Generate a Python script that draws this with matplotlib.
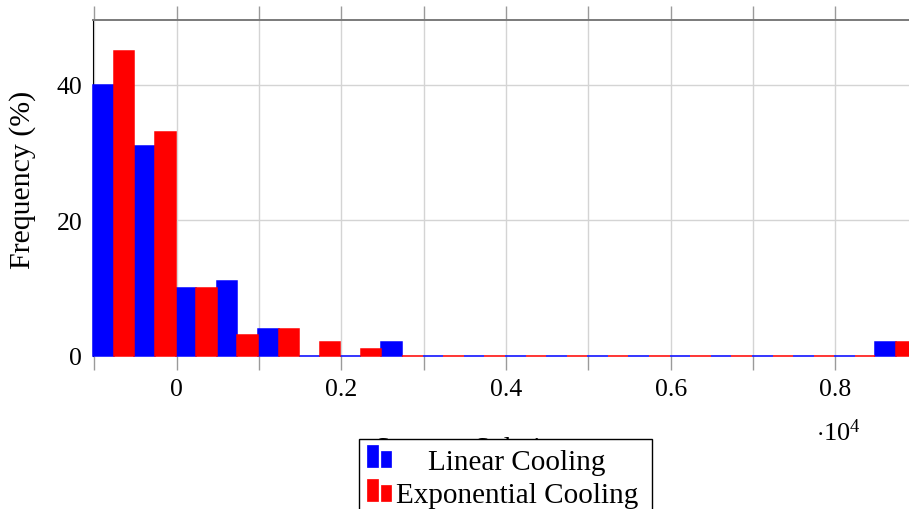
import matplotlib
matplotlib.use("Agg")
import matplotlib.pyplot as plt
from matplotlib.patches import Rectangle

plt.rcParams['font.family'] = ['Liberation Serif', 'DejaVu Serif']
plt.rcParams['mathtext.fontset'] = 'custom'
plt.rcParams['mathtext.rm'] = 'Liberation Serif'
plt.rcParams['mathtext.it'] = 'Liberation Serif:italic'

# ---- data (x in units of 10^4) ----
bin_centers = [-0.0763, -0.0263, 0.0237, 0.0737, 0.1237, 0.1737, 0.2237, 0.2737,
               0.3237, 0.3737, 0.4237, 0.4737, 0.5237, 0.5737, 0.6237, 0.6737,
               0.7237, 0.7737, 0.8237, 0.8737]
linear_cooling = [40, 31, 10, 11, 4, 0, 0, 2, 0, 0, 0, 0, 0, 0, 0, 0, 0, 0, 0, 2]
exponential_cooling = [45, 33, 10, 3, 4, 2, 1, 0, 0, 0, 0, 0, 0, 0, 0, 0, 0, 0, 0, 2]
major_ticks = [0, 0.2, 0.4, 0.6, 0.8]
major_labels = ["0", "0.2", "0.4", "0.6", "0.8"]
minor_ticks = [-0.1, 0.1, 0.3, 0.5, 0.7]
y_ticks = [0, 20, 40]
series_names = ["Linear Cooling", "Exponential Cooling"]
x_label = "Strategy Solution"
y_label = "Frequency (%)"

W, H = 909, 510
fig = plt.figure(figsize=(W / 100, H / 100), dpi=100)

def fx(px):
    return px / W

def fy(py):
    return 1 - py / H

ax_left, ax_top, ax_bottom = 93.3, 21.0, 356.7
ax = fig.add_axes([fx(ax_left), fy(ax_bottom), 1 - fx(ax_left), (ax_bottom - ax_top) / H])

bw = 0.025
blue, red = "#0000ff", "#ff0000"
ax.bar([c - bw / 2 for c in bin_centers], linear_cooling, width=bw, color=blue,
       edgecolor=blue, linewidth=1.1, zorder=3, clip_on=False)
ax.bar([c + bw / 2 for c in bin_centers], exponential_cooling, width=bw, color=red,
       edgecolor=red, linewidth=1.1, zorder=3, clip_on=False)

ax.set_xlim(-0.1013, 0.8895)
ax.set_ylim(0, 49.55)

ax.set_xticks(major_ticks)
ax.set_xticklabels(major_labels)
ax.set_xticks(minor_ticks, minor=True)
ax.set_yticks(y_ticks)
ax.set_yticklabels([str(v) for v in y_ticks])

ax.grid(True, which='both', axis='x', color='#d4d4d4', linewidth=1.0, zorder=0)
ax.grid(True, which='major', axis='y', color='#d4d4d4', linewidth=1.0, zorder=0)
ax.set_axisbelow(True)

ax.tick_params(axis='x', which='both', direction='out', length=10, width=1.0,
               color='#9a9a9a', top=True, labeltop=False, labelsize=18.5, pad=6)
ax.tick_params(axis='y', which='both', length=0, labelsize=18.5, pad=8)

ax.spines['right'].set_visible(False)
ax.spines['bottom'].set_visible(False)
ax.spines['top'].set_color('#7a7a7a')
ax.spines['top'].set_linewidth(1.4)
ax.spines['left'].set_color('black')
ax.spines['left'].set_linewidth(0.8)

ax.set_ylabel(y_label, fontsize=21.5)
ax.yaxis.set_label_coords(-(93.3 - 36) / (W - 93.3), (356.7 - 180) / (356.7 - 21))

# scale factor label
fig.text(fx(838), fy(433), r"$\cdot 10^{4}$", fontsize=19, ha='center', va='center')

# x label (partially hidden by the legend, as in the original)
fig.text(fx(472), fy(437), x_label, fontsize=20, ha='center', va='top', zorder=1)

# legend box
lg_left, lg_right, lg_top = 359, 652, 440
fig.add_artist(Rectangle((fx(lg_left), fy(530)), (lg_right - lg_left) / W, (530 - lg_top) / H,
                         transform=fig.transFigure, facecolor='white', edgecolor='black',
                         linewidth=1.0, zorder=5, clip_on=False))
rows = [(blue, 468, 470, series_names[0]), (red, 502, 503, series_names[1])]
for col, base, tbase, name in rows:
    fig.add_artist(Rectangle((fx(367), fy(base)), 11 / W, 22 / H, transform=fig.transFigure,
                             facecolor=col, edgecolor=col, linewidth=0.5, zorder=6))
    fig.add_artist(Rectangle((fx(381), fy(base)), 10 / W, 16 / H, transform=fig.transFigure,
                             facecolor=col, edgecolor=col, linewidth=0.5, zorder=6))
    fig.text(fx(517), fy(tbase), name, fontsize=21, ha='center', va='baseline', zorder=7)

fig.savefig("out.png", dpi=100)
